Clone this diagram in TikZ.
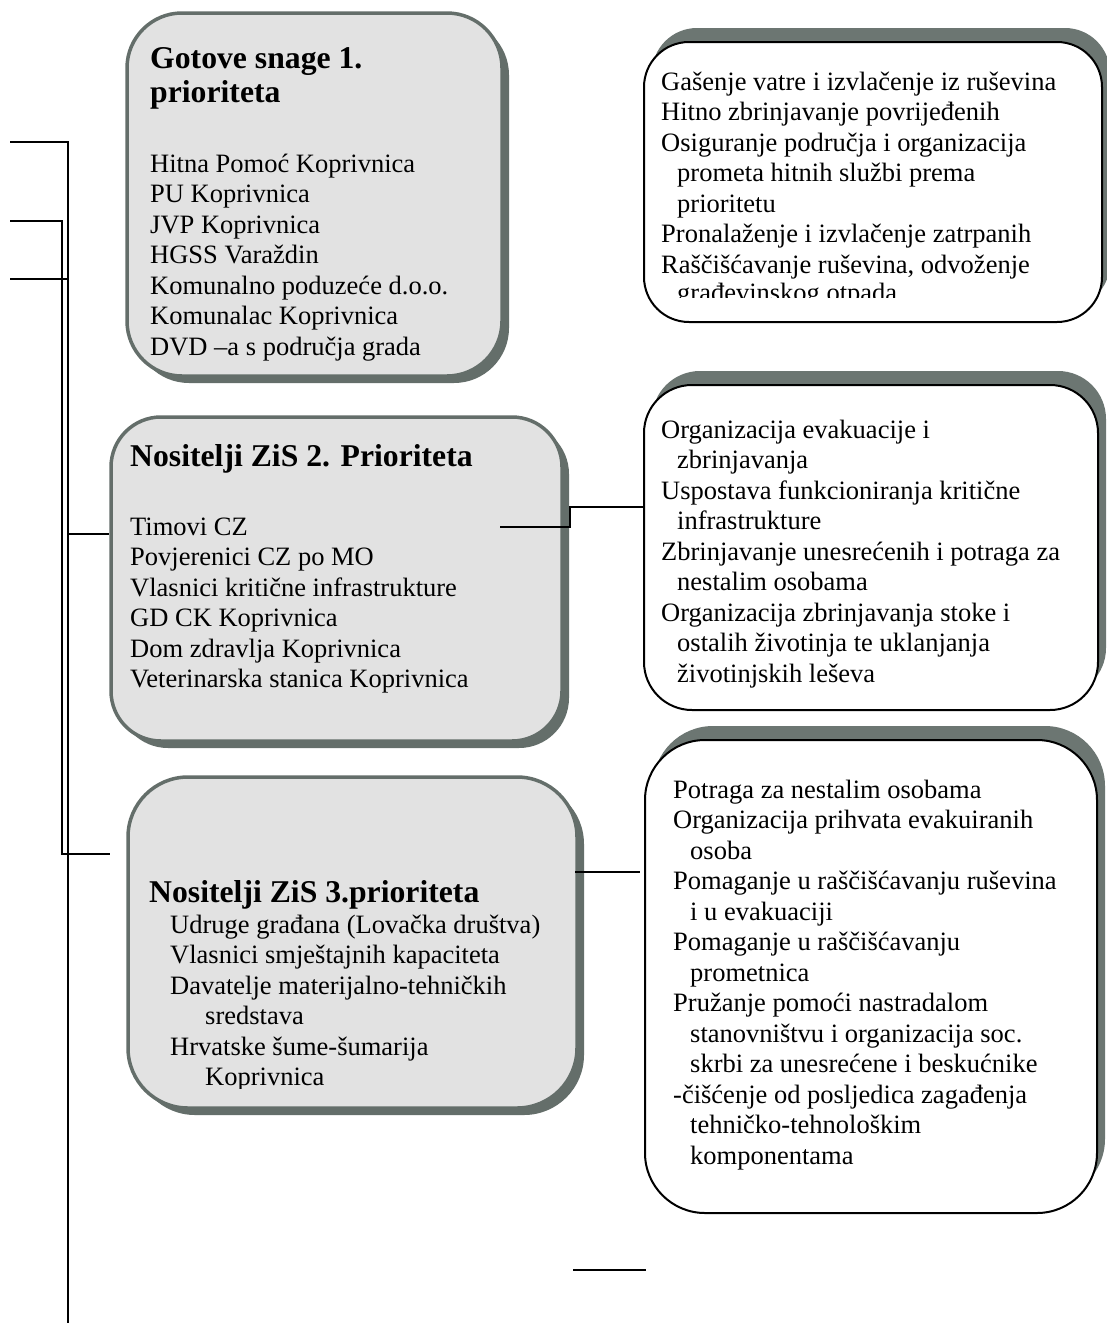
\documentclass[tikz,border=0pt]{standalone}
\usepackage{fontspec}
\setmainfont{Liberation Serif}
\definecolor{grayfill}{RGB}{226,226,226}
\definecolor{grayedge}{RGB}{100,110,106}
\definecolor{wshadow}{RGB}{108,118,114}
\newcommand\ind{\hspace*{16pt}}
\newcommand\txtblock[5]{%
  \foreach \myline [count=\k] in {#5}{%
    \pgfmathsetmacro\yy{#3+(\k-1)*#4}%
    \node[txt] (#1\k) at (#2,\yy) {\myline};
  }}
\begin{document}
\begin{tikzpicture}[x=1pt,y=-1pt,
  txt/.style={font=\fontsize{26.5}{30.5}\selectfont, inner sep=0pt, anchor=base west},
  ttl/.style={font=\bfseries\fontsize{31.7}{36}\selectfont, inner sep=0pt, anchor=base west},
  graybox/.style={rectangle, rounded corners=#1, fill=grayfill, draw=grayedge, line width=3.5pt, inner sep=0pt},
  grayshadow/.style={rectangle, rounded corners=#1, fill=grayedge, inner sep=0pt},
  whitebox/.style={rectangle, rounded corners=#1, fill=white, draw=black, line width=2pt, inner sep=0pt},
  whiteshadow/.style={rectangle, rounded corners=#1, fill=wshadow, inner sep=0pt},
  conn/.style={draw=black, line width=2pt}]
\clip (0,0) rectangle (1107,1323);
\fill[white] (0,0) rectangle (1107,1323);

% gray boxes
\node[grayshadow=55, minimum width=375pt, minimum height=363pt] (g1s) at (321.5,201.5) {};
\node[graybox=55, minimum width=375pt, minimum height=363pt] (g1) at (314.5,194.5) {};
\node[grayshadow=50, minimum width=451pt, minimum height=324pt] (g2s) at (343.5,586) {};
\node[graybox=50, minimum width=451pt, minimum height=324pt] (g2) at (336.5,579) {};
\node[grayshadow=60, minimum width=449pt, minimum height=331pt] (g3s) at (359.5,949.5) {};
\node[graybox=60, minimum width=449pt, minimum height=331pt] (g3) at (352.5,942.5) {};

% white boxes
\node[whiteshadow=45, minimum width=458pt, minimum height=280pt] (w1s) at (881,168) {};
\node[whitebox=45, minimum width=458pt, minimum height=280pt] (w1) at (873,182) {};
\node[whiteshadow=48, minimum width=454pt, minimum height=325pt] (w2s) at (879,533.5) {};
\node[whitebox=48, minimum width=454pt, minimum height=325pt] (w2) at (871,547.5) {};
\node[whiteshadow=60, minimum width=452pt, minimum height=473pt] (w3s) at (879,962.5) {};
\node[whitebox=60, minimum width=452pt, minimum height=473pt] (w3) at (871,976.5) {};

% gray box texts
\node[ttl] (g1t1) at (150,68) {Gotove snage 1.};
\node[ttl] (g1t2) at (150,102) {prioriteta};
\txtblock{ga}{150}{172}{30.5}{Hitna Pomoć Koprivnica, PU Koprivnica, JVP Koprivnica, HGSS Varaždin, Komunalno poduzeće d.o.o., Komunalac Koprivnica, DVD –a s područja grada}

\node[ttl] (g2t) at (130,466) {Nositelji ZiS 2. Prioriteta};
\txtblock{gb}{130}{535}{30.5}{Timovi CZ, Povjerenici CZ po MO, Vlasnici kritične infrastrukture, GD CK Koprivnica, Dom zdravlja Koprivnica, Veterinarska stanica Koprivnica}

\node[ttl] (g3t) at (149,902) {Nositelji ZiS 3.prioriteta};
\begin{scope}
\clip (100,700) rectangle (600,1088);
\txtblock{gc}{170}{933}{30.5}{Udruge građana (Lovačka društva), Vlasnici smještajnih kapaciteta, Davatelje materijalno-tehničkih, \hspace*{35pt}sredstava, Hrvatske šume-šumarija, \hspace*{35pt}Koprivnica}
\end{scope}

% white box texts
\begin{scope}
\clip (600,0) rectangle (1107,297);
\txtblock{wa}{661}{90}{30.5}{Gašenje vatre i izvlačenje iz ruševina, Hitno zbrinjavanje povrijeđenih, Osiguranje područja i organizacija, \ind prometa hitnih službi prema, \ind prioritetu, Pronalaženje i izvlačenje zatrpanih, {Raščišćavanje ruševina, odvoženje}}
\node[txt] (wa8) at (677,301) {građevinskog otpada};
\end{scope}

\txtblock{wb}{661}{438}{30.5}{Organizacija evakuacije i, \ind zbrinjavanja, Uspostava funkcioniranja kritične, \ind infrastrukture, Zbrinjavanje unesrećenih i potraga za, \ind nestalim osobama, Organizacija zbrinjavanja stoke i, \ind ostalih životinja te uklanjanja, \ind životinjskih leševa}

\txtblock{wc}{673}{798}{30.5}{Potraga za nestalim osobama, Organizacija prihvata evakuiranih, \hspace*{17pt}osoba, Pomaganje u raščišćavanju ruševina, \hspace*{17pt}i u evakuaciji, Pomaganje u raščišćavanju, \hspace*{17pt}prometnica, Pružanje pomoći nastradalom, \hspace*{17pt}stanovništvu i organizacija soc., \hspace*{17pt}skrbi za unesrećene i beskućnike, -čišćenje od posljedica zagađenja, \hspace*{17pt}tehničko-tehnološkim, \hspace*{17pt}komponentama}

% left connectors
\coordinate (l1) at (10,142);
\coordinate (l2) at (10,221);
\coordinate (l3) at (10,279);
\coordinate (vb) at (68,1323);
\coordinate (j2) at (68,534);
\coordinate (v2) at (62,854);
\coordinate (e3) at (110,854);
\draw[conn] (l1) -| (vb);
\draw[conn] (l3) -- (l3 -| vb);
\draw[conn] (j2) -- (j2 -| g2.west);
\draw[conn] (l2) -| (v2) -- (e3);

% right connectors
\coordinate (s2) at (500,527);
\coordinate (k2) at (570,507);
\draw[conn] (s2) -| (k2) -- (k2 -| w2.west);
\coordinate (s3) at (575,872);
\coordinate (e3r) at (640,872);
\draw[conn] (s3) -- (e3r);
\coordinate (b1) at (573,1270);
\coordinate (b2) at (646,1270);
\draw[conn] (b1) -- (b2);
\end{tikzpicture}
\end{document}
